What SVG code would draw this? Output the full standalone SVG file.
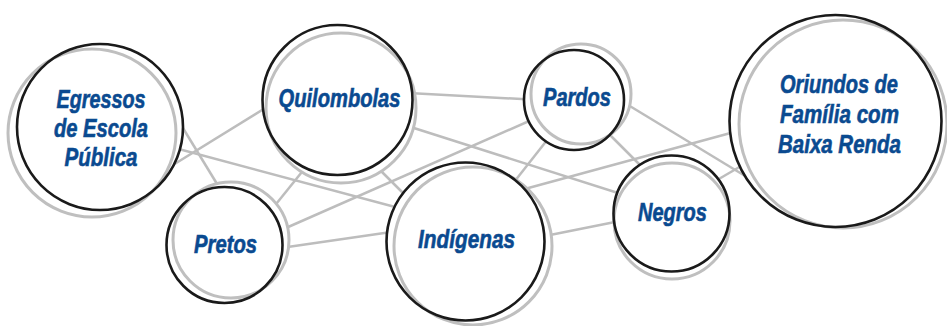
<svg xmlns="http://www.w3.org/2000/svg" width="947" height="326" viewBox="0 0 947 326">
<style>
.c line{stroke:#bdbdbd;stroke-width:2.5;stroke-linecap:butt}
.bg{fill:#fff;stroke:none}
.g{fill:none;stroke:#bfbfbf;stroke-width:3}
.k{fill:none;stroke:#1a1a1a;stroke-width:2.6}
.t{font-family:"Liberation Sans Narrow","Liberation Sans",Arial,sans-serif;font-weight:bold;font-style:italic;font-size:25px;fill:#0a4a90;stroke:#0a4a90;stroke-width:0.6;text-anchor:middle}
</style>
<rect width="947" height="326" fill="#fff"/>
<g id="connectors" class="c">
<line x1="160" y1="173" x2="275" y2="102"/>
<line x1="160" y1="144" x2="410" y2="211"/>
<line x1="175" y1="115" x2="225" y2="197"/>
<line x1="260" y1="224" x2="318" y2="152"/>
<line x1="270" y1="235" x2="545" y2="114"/>
<line x1="260" y1="251" x2="405" y2="230"/>
<line x1="360" y1="150" x2="420" y2="210"/>
<line x1="390" y1="92" x2="540" y2="100"/>
<line x1="395" y1="122" x2="640" y2="200"/>
<line x1="555" y1="130" x2="500" y2="200"/>
<line x1="510" y1="193" x2="760" y2="125"/>
<line x1="600" y1="125" x2="650" y2="175"/>
<line x1="610" y1="94" x2="760" y2="185"/>
<line x1="700" y1="190" x2="760" y2="155"/>
<line x1="530" y1="239" x2="640" y2="217"/>
</g>
<g id="egressos">
<circle class="bg" cx="92" cy="133" r="84"/><circle class="bg" cx="100" cy="127" r="83"/>
<circle class="g" cx="92" cy="133" r="84"/><circle class="k" cx="100" cy="127" r="83"/>
<text class="t" x="101" y="108" textLength="89" lengthAdjust="spacingAndGlyphs">Egressos</text>
<text class="t" x="101" y="137" textLength="94" lengthAdjust="spacingAndGlyphs">de Escola</text>
<text class="t" x="101" y="166" textLength="73" lengthAdjust="spacingAndGlyphs">Pública</text>
</g>
<g id="pretos">
<circle class="bg" cx="231" cy="240" r="58"/><circle class="bg" cx="224.5" cy="245" r="58"/>
<circle class="g" cx="231" cy="240" r="58"/><circle class="k" cx="224.5" cy="245" r="58"/>
<text class="t" x="225.5" y="253" textLength="63" lengthAdjust="spacingAndGlyphs">Pretos</text>
</g>
<g id="quilombolas">
<circle class="bg" cx="341" cy="108" r="75"/><circle class="bg" cx="337.5" cy="100" r="75"/>
<circle class="g" cx="341" cy="108" r="75"/><circle class="k" cx="337.5" cy="100" r="75"/>
<text class="t" x="339.5" y="107" textLength="122" lengthAdjust="spacingAndGlyphs">Quilombolas</text>
</g>
<g id="pardos">
<circle class="bg" cx="581" cy="94" r="50"/><circle class="bg" cx="574" cy="100" r="50"/>
<circle class="g" cx="581" cy="94" r="50"/><circle class="k" cx="574" cy="100" r="50"/>
<text class="t" x="577" y="106" textLength="68" lengthAdjust="spacingAndGlyphs">Pardos</text>
</g>
<g id="indigenas">
<circle class="bg" cx="473" cy="246" r="79"/><circle class="bg" cx="465.5" cy="241.5" r="79"/>
<circle class="g" cx="473" cy="246" r="79"/><circle class="k" cx="465.5" cy="241.5" r="79"/>
<text class="t" x="466.5" y="248" textLength="97" lengthAdjust="spacingAndGlyphs">Indígenas</text>
</g>
<g id="negros">
<circle class="bg" cx="672" cy="221" r="58"/><circle class="bg" cx="671.5" cy="213.5" r="58"/>
<circle class="g" cx="672" cy="221" r="58"/><circle class="k" cx="671.5" cy="213.5" r="58"/>
<text class="t" x="672.5" y="221" textLength="69" lengthAdjust="spacingAndGlyphs">Negros</text>
</g>
<g id="oriundos">
<circle class="bg" cx="843" cy="124" r="104"/><circle class="bg" cx="835.5" cy="121" r="106"/>
<circle class="g" cx="843" cy="124" r="104"/><circle class="k" cx="835.5" cy="121" r="106"/>
<text class="t" x="839" y="93" textLength="118" lengthAdjust="spacingAndGlyphs">Oriundos de</text>
<text class="t" x="839.5" y="123" textLength="119" lengthAdjust="spacingAndGlyphs">Família com</text>
<text class="t" x="839.5" y="153" textLength="123" lengthAdjust="spacingAndGlyphs">Baixa Renda</text>
</g>
</svg>
